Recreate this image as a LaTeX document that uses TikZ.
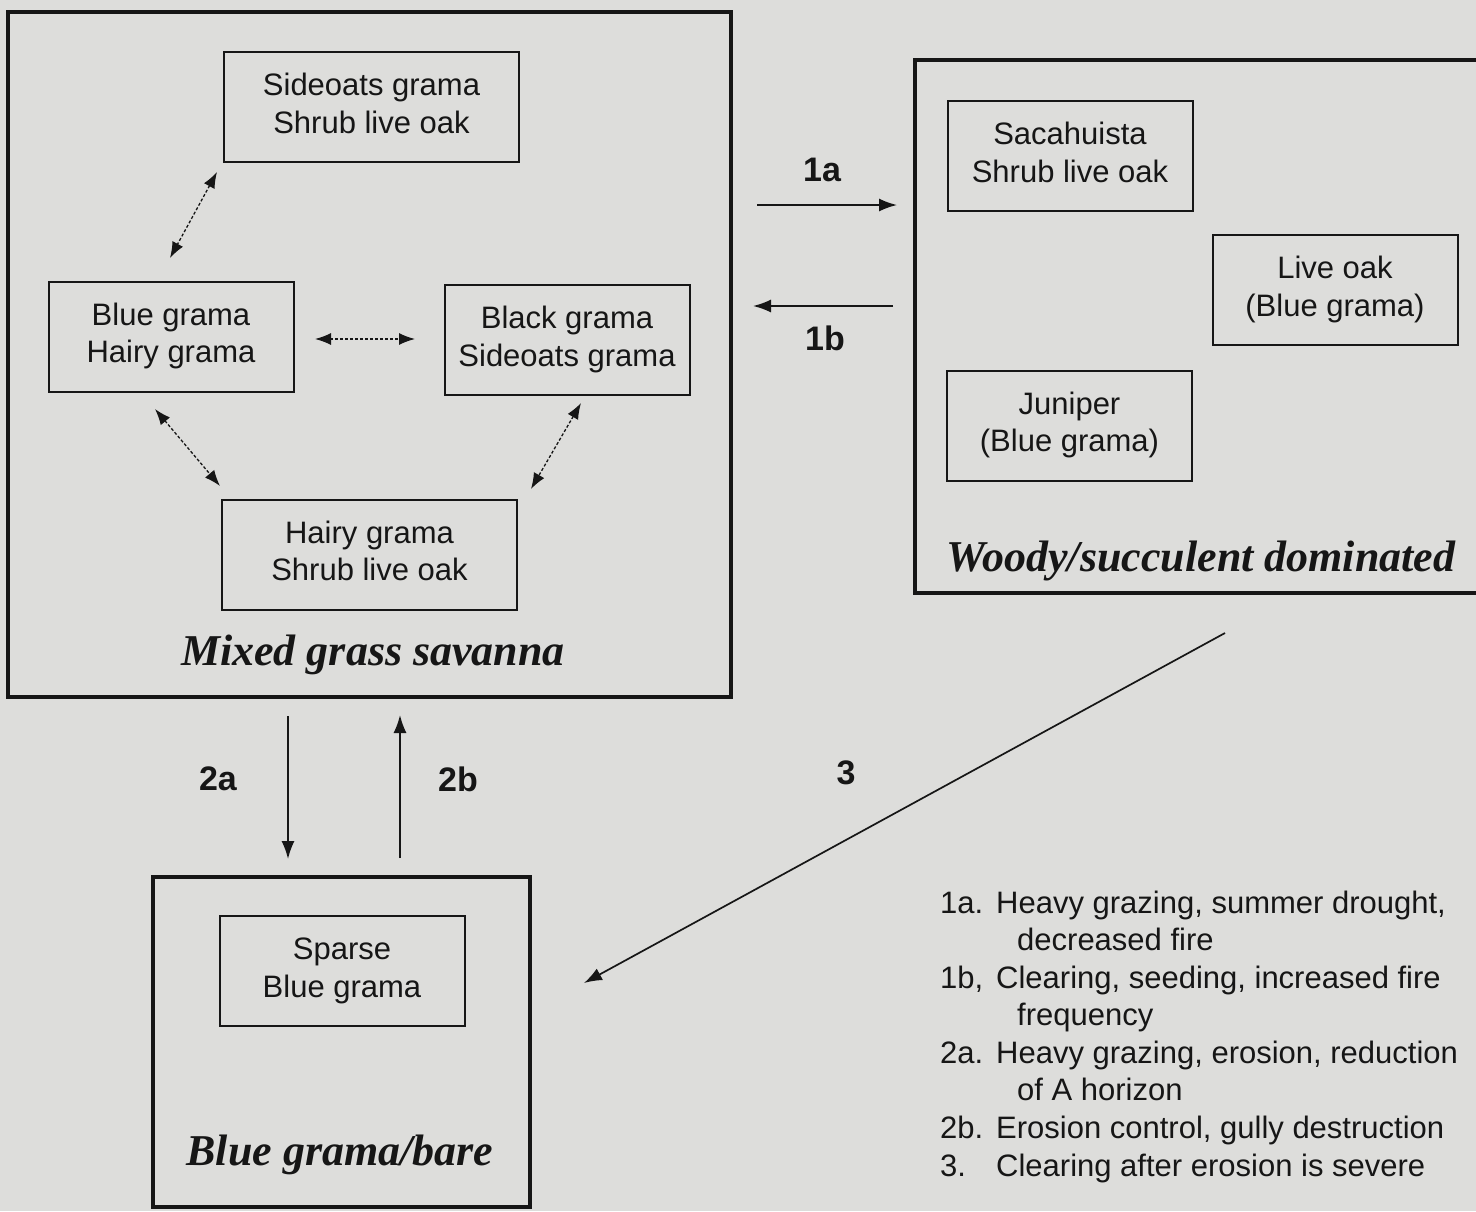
\documentclass[tikz,border=0pt]{standalone}
\usepackage{fontspec}
\setmainfont{Liberation Sans}
\newfontfamily\serifttl{Liberation Serif}
\usetikzlibrary{arrows.meta,calc}
\definecolor{paper}{RGB}{221,221,219}
\definecolor{ink}{RGB}{22,22,22}
\newcommand\twolines[2]{\strut #1\\\strut #2}
\begin{document}
\begin{tikzpicture}[x=1pt,y=-1pt,
  outerbox/.style={draw=ink,line width=4pt,inner sep=0pt},
  innerbox/.style={draw=ink,line width=2pt,minimum width=245pt,minimum height=110pt,
    inner sep=0pt,align=center,font=\fontsize{31}{37.5}\selectfont,text=ink},
  ttl/.style={font=\serifttl\fontsize{44}{50}\selectfont\bfseries\itshape,text=ink,inner sep=0pt},
  numlab/.style={font=\fontsize{34}{40}\selectfont\bfseries,text=ink,inner sep=0pt},
  legend/.style={font=\fontsize{31}{37}\selectfont,text=ink,inner sep=0pt,anchor=base west},
  arr/.style={draw=ink,line width=1.7pt,-{Latex[length=18pt,width=13pt]}},
  darr/.style={draw=ink,line width=1.3pt,dash pattern=on 3pt off 2pt,
    {Latex[length=16pt,width=12pt]}-{Latex[length=16pt,width=12pt]}}]
\fill[paper] (0,0) rectangle (1476,1211);
\useasboundingbox (0,0) rectangle (1476,1211);

% outer state boxes
\node[outerbox,minimum width=723pt,minimum height=685pt] (mgs) at (369.5,354.5) {};
\node[outerbox,minimum width=565pt,minimum height=533pt] (wsd) at (1197.5,326.5) {};
\node[outerbox,minimum width=377pt,minimum height=330pt] (gbb) at (341.5,1042) {};

% titles
\node[ttl] (tmgs) at (373,655) {Mixed grass savanna};
\node[ttl] (twsd) at (1201,561) {Woody/succulent dominated};
\node[ttl] (tgbb) at (340,1155) {Blue grama/bare};

% inner community boxes
\node[innerbox,minimum width=295pt] (sg) at (371.5,107) {\twolines{Sideoats grama}{Shrub live oak}};
\node[innerbox] (bg) at (171,336.5) {\twolines{Blue grama}{Hairy grama}};
\node[innerbox] (bk) at (567,340) {\twolines{Black grama}{Sideoats grama}};
\node[innerbox,minimum width=295pt] (hg) at (369.5,554.5) {\twolines{Hairy grama}{Shrub live oak}};
\node[innerbox] (sa) at (1070,156) {\twolines{Sacahuista}{Shrub live oak}};
\node[innerbox] (lo) at (1335,290) {\twolines{Live oak}{(Blue grama)}};
\node[innerbox] (ju) at (1069.5,425.5) {\twolines{Juniper}{(Blue grama)}};
\node[innerbox] (sp) at (342,971) {\twolines{Sparse}{Blue grama}};

% dotted transitions inside savanna
\coordinate (d1s) at (217,172); \coordinate (d1e) at (170,258);
\coordinate (d2s) at (315,339); \coordinate (d2e) at (415,339);
\coordinate (d3s) at (155,409); \coordinate (d3e) at (220,486);
\coordinate (d4s) at (581,403); \coordinate (d4e) at (531,489);
\draw[darr] (d1s) -- (d1e);
\draw[darr] (d2s) -- (d2e);
\draw[darr] (d3s) -- (d3e);
\draw[darr] (d4s) -- (d4e);

% transitions between states
\draw[arr,shorten <=24pt,shorten >=16pt] (mgs.east |- 0,205) -- (wsd.west |- 0,205);
\draw[arr,shorten <=20pt,shorten >=20pt] (wsd.west |- 0,306) -- (mgs.east |- 0,306);
\draw[arr,shorten <=17pt,shorten >=16pt] (mgs.south -| 288,0) -- (gbb.north -| 288,0);
\draw[arr,shorten <=17pt,shorten >=16pt] (gbb.north -| 400,0) -- (mgs.south -| 400,0);
\coordinate (t3s) at (1225,633); \coordinate (t3e) at (584,983);
\draw[arr] (t3s) -- (t3e);

% transition labels
\node[numlab] (l1a) at (822,170) {1a};
\node[numlab] (l1b) at (825,338) {1b};
\node[numlab] (l2a) at (218,779) {2a};
\node[numlab] (l2b) at (458,779) {2b};
\node[numlab] (l3) at (846,773) {3};

% legend
\node[legend] (n1) at (940,913) {1a.};
\node[legend] (e1) at (996,913) {Heavy grazing, summer drought,};
\node[legend] (e1b) at (1017,950) {decreased fire};
\node[legend] (n2) at (940,988) {1b,};
\node[legend] (e2) at (996,988) {Clearing, seeding, increased fire};
\node[legend] (e2b) at (1017,1025) {frequency};
\node[legend] (n3) at (940,1063) {2a.};
\node[legend] (e3) at (996,1063) {Heavy grazing, erosion, reduction};
\node[legend] (e3b) at (1017,1100) {of A horizon};
\node[legend] (n4) at (940,1138) {2b.};
\node[legend] (e4) at (996,1138) {Erosion control, gully destruction};
\node[legend] (n5) at (940,1176) {3.};
\node[legend] (e5) at (996,1176) {Clearing after erosion is severe};
\end{tikzpicture}
\end{document}
